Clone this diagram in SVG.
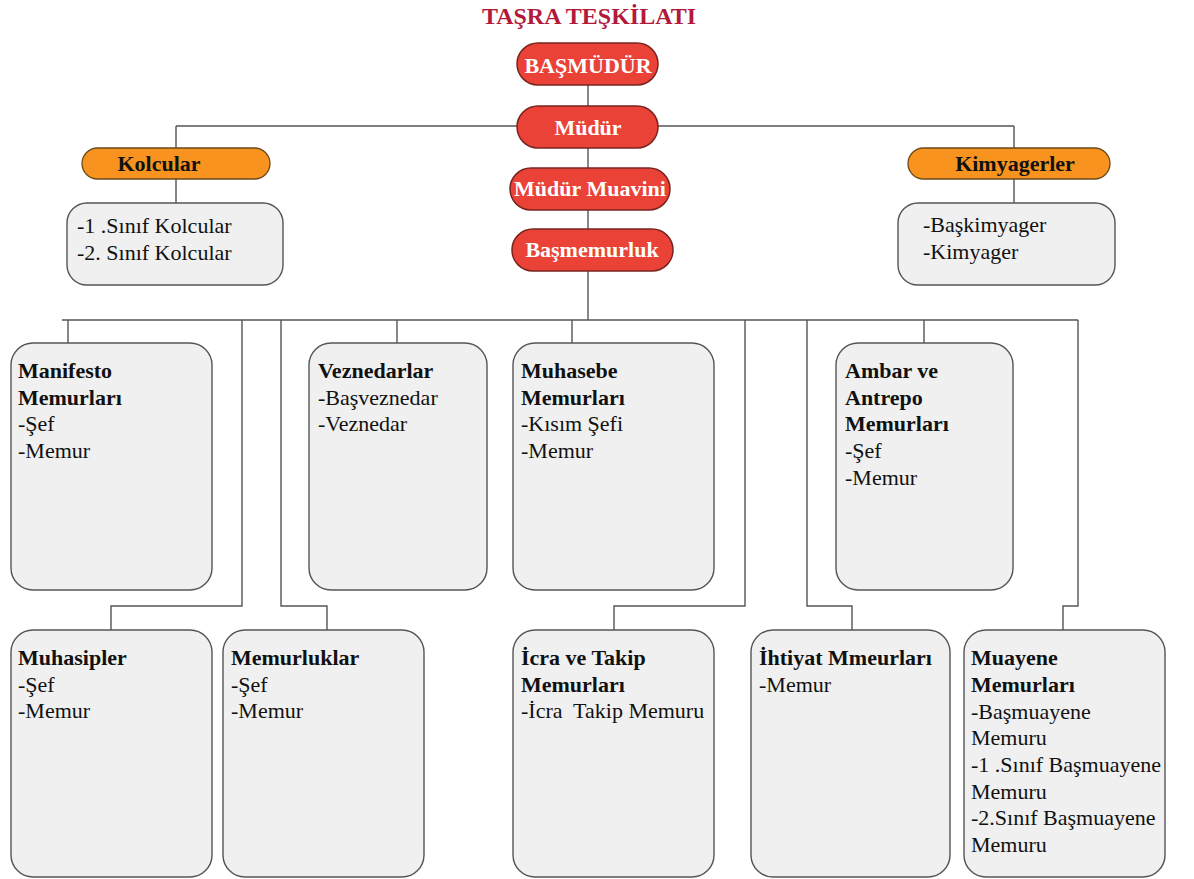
<svg xmlns="http://www.w3.org/2000/svg" width="1194" height="879" viewBox="0 0 1194 879">
<style>
text{font-family:"Liberation Serif","Times New Roman",serif;font-size:22px;fill:#111}
.b{font-weight:bold}
.title{font-weight:bold;fill:#b3193a;font-size:24px}
.red rect{fill:#ea4236;stroke:#7a2420;stroke-width:1.5}
.red text{fill:#fff;font-weight:bold;text-anchor:middle}
.org rect{fill:#f7931e;stroke:#6b4a1a;stroke-width:1.3}
.org text{font-weight:bold;text-anchor:middle}
.box rect{fill:#f0f0f0;stroke:#555;stroke-width:1.4}
#connectors path{fill:none;stroke:#555;stroke-width:1.4}
</style>
<rect width="1194" height="879" fill="#fff"/>
<text class="title" x="589" y="24" text-anchor="middle">TAŞRA TEŞKİLATI</text>
<g id="connectors">
<path d="M588 85V320"/>
<path d="M176 126H1014"/>
<path d="M176 126V148M176 179V203"/>
<path d="M1014 126V148M1014 179V203"/>
<path d="M62 320H1078"/>
<path d="M68 320V343"/>
<path d="M397 320V343"/>
<path d="M572 320V343"/>
<path d="M924 320V343"/>
<path d="M242 320V606H111V630"/>
<path d="M281 320V606H327V630"/>
<path d="M745 320V606H614V630"/>
<path d="M807 320V606H852V630"/>
<path d="M1078 320V606H1063V630"/>
</g>
<g id="basmudur" class="red"><rect x="517" y="43" width="141" height="42" rx="21"/><text x="588" y="73">BAŞMÜDÜR</text></g>
<g id="mudur" class="red"><rect x="517" y="106" width="141" height="42" rx="21"/><text x="588" y="135">Müdür</text></g>
<g id="mudur-muavini" class="red"><rect x="510" y="168" width="160" height="42" rx="21"/><text x="590" y="196">Müdür Muavini</text></g>
<g id="basmemurluk" class="red"><rect x="512" y="229" width="161" height="42" rx="21"/><text x="592" y="257">Başmemurluk</text></g>
<g id="kolcular" class="org"><rect x="82" y="148" width="188" height="31" rx="15.5"/><text x="159" y="171">Kolcular</text></g>
<g id="kimyagerler" class="org"><rect x="908" y="148" width="202" height="31" rx="15.5"/><text x="1015" y="171">Kimyagerler</text></g>
<g id="kolcular-list" class="box"><rect x="67" y="203" width="216" height="82" rx="20"/><text x="77" y="233">-1 .Sınıf Kolcular</text><text x="77" y="260">-2. Sınıf Kolcular</text></g>
<g id="kimyager-list" class="box"><rect x="898" y="203" width="217" height="82" rx="20"/><text x="923" y="232">-Başkimyager</text><text x="923" y="259">-Kimyager</text></g>
<g id="manifesto" class="box"><rect x="11" y="343" width="201" height="247" rx="22"/><text class="b" x="18" y="378">Manifesto</text><text class="b" x="18" y="405">Memurları</text><text x="18" y="431">-Şef</text><text x="18" y="458">-Memur</text></g>
<g id="veznedarlar" class="box"><rect x="309" y="343" width="178" height="247" rx="22"/><text class="b" x="318" y="378">Veznedarlar</text><text x="318" y="405">-Başveznedar</text><text x="318" y="431">-Veznedar</text></g>
<g id="muhasebe" class="box"><rect x="513" y="343" width="201" height="247" rx="22"/><text class="b" x="521" y="378">Muhasebe</text><text class="b" x="521" y="405">Memurları</text><text x="521" y="431">-Kısım Şefi</text><text x="521" y="458">-Memur</text></g>
<g id="ambar" class="box"><rect x="836" y="343" width="177" height="247" rx="22"/><text class="b" x="845" y="378">Ambar ve</text><text class="b" x="845" y="405">Antrepo</text><text class="b" x="845" y="431">Memurları</text><text x="845" y="458">-Şef</text><text x="845" y="485">-Memur</text></g>
<g id="muhasipler" class="box"><rect x="11" y="630" width="201" height="247" rx="22"/><text class="b" x="18" y="665">Muhasipler</text><text x="18" y="692">-Şef</text><text x="18" y="718">-Memur</text></g>
<g id="memurluklar" class="box"><rect x="223" y="630" width="201" height="247" rx="22"/><text class="b" x="231" y="665">Memurluklar</text><text x="231" y="692">-Şef</text><text x="231" y="718">-Memur</text></g>
<g id="icra" class="box"><rect x="513" y="630" width="201" height="247" rx="22"/><text class="b" x="521" y="665">İcra ve Takip</text><text class="b" x="521" y="692">Memurları</text><text x="521" y="718" xml:space="preserve">-İcra  Takip Memuru</text></g>
<g id="ihtiyat" class="box"><rect x="751" y="630" width="199" height="247" rx="22"/><text class="b" x="759" y="665">İhtiyat Mmeurları</text><text x="759" y="692">-Memur</text></g>
<g id="muayene" class="box"><rect x="964" y="630" width="201" height="247" rx="22"/><text class="b" x="971" y="665">Muayene</text><text class="b" x="971" y="692">Memurları</text><text x="971" y="719">-Başmuayene</text><text x="971" y="745">Memuru</text><text x="971" y="772">-1 .Sınıf Başmuayene</text><text x="971" y="799">Memuru</text><text x="971" y="825">-2.Sınıf Başmuayene</text><text x="971" y="852">Memuru</text></g>
</svg>
